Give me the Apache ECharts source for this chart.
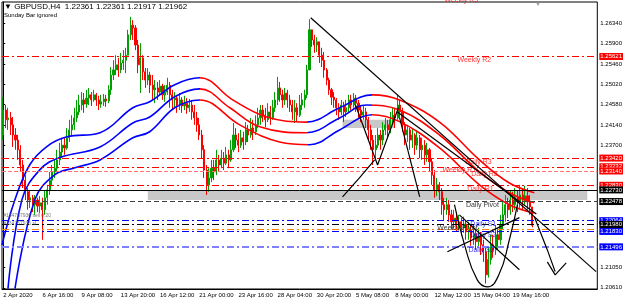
<!DOCTYPE html>
<html><head><meta charset="utf-8">
<script src="https://cdn.jsdelivr.net/npm/echarts@6/dist/echarts.min.js"></script>
<style>html,body{margin:0;padding:0;background:#fff}#c{width:625px;height:302px}</style>
</head><body><div id="c"></div>
<script>
// ---------------- DATA ----------------
const tickLabels = ['2 Apr 2020','6 Apr 16:00','9 Apr 08:00','13 Apr 20:00','16 Apr 12:00','21 Apr 00:00','23 Apr 16:00','28 Apr 04:00','30 Apr 20:00','5 May 08:00','8 May 00:00','12 May 12:00','15 May 04:00','19 May 16:00'];
const priceTicks = [1.26340,1.25900,1.25460,1.25020,1.24580,1.24140,1.23700,1.21050,1.20610];
const firstOpen = 1.2392;
const closes = [1.2446,1.2425,1.2429,1.2414,1.2392,1.2381,1.2360,1.2327,1.2294,1.2269,
1.2251,1.2256,1.2241,1.2251,1.2238,1.2245,1.2230,1.2256,1.2273,1.2294,
1.2312,1.2320,1.2338,1.2355,1.2370,1.2364,1.2386,1.2403,1.2414,1.2429,
1.2442,1.2457,1.2468,1.2459,1.2472,1.2479,1.2468,1.2479,1.2468,1.2459,
1.2464,1.2470,1.2466,1.2490,1.2522,1.2533,1.2544,1.2533,1.2548,1.2554,
1.2565,1.2609,1.2630,1.2624,1.2587,1.2544,1.2559,1.2529,1.2511,1.2522,
1.2500,1.2490,1.2494,1.2485,1.2498,1.2479,1.2485,1.2500,1.2479,1.2468,
1.2472,1.2457,1.2468,1.2455,1.2461,1.2451,1.2457,1.2442,1.2429,1.2414,
1.2392,1.2360,1.2316,1.2284,1.2299,1.2320,1.2312,1.2338,1.2327,1.2342,
1.2331,1.2349,1.2338,1.2360,1.2392,1.2381,1.2370,1.2386,1.2377,1.2403,
1.2392,1.2407,1.2399,1.2414,1.2429,1.2446,1.2435,1.2425,1.2442,1.2429,
1.2451,1.2468,1.2494,1.2479,1.2468,1.2483,1.2468,1.2457,1.2442,1.2451,
1.2435,1.2457,1.2468,1.2479,1.2533,1.2620,1.2598,1.2587,1.2594,1.2565,
1.2554,1.2533,1.2511,1.2490,1.2474,1.2468,1.2451,1.2442,1.2457,1.2442,
1.2451,1.2468,1.2457,1.2472,1.2461,1.2446,1.2435,1.2442,1.2425,1.2403,
1.2381,1.2360,1.2370,1.2392,1.2381,1.2403,1.2414,1.2403,1.2425,1.2435,
1.2429,1.2457,1.2442,1.2414,1.2392,1.2403,1.2381,1.2392,1.2370,1.2386,
1.2360,1.2370,1.2349,1.2360,1.2334,1.2305,1.2273,1.2284,1.2269,1.2241,
1.2230,1.2241,1.2219,1.2204,1.2212,1.2197,1.2204,1.2191,1.2199,1.2182,
1.2187,1.2169,1.2178,1.2161,1.2173,1.2154,1.2139,1.2089,1.2122,1.2154,
1.2143,1.2176,1.2165,1.2197,1.2219,1.2241,1.2230,1.2251,1.2241,1.2256,
1.2247,1.2262,1.2251,1.2260,1.2247,1.2236,1.21962];
const highs = [1.2474,1.2457,1.2451,1.2442,1.2431,1.2407,1.2392,1.2370,1.2338,1.2305,
1.2277,1.2273,1.2262,1.2262,1.2256,1.2260,1.2256,1.2273,1.2284,1.2312,
1.2327,1.2338,1.2360,1.2375,1.2386,1.2386,1.2407,1.2425,1.2435,1.2451,
1.2468,1.2479,1.2485,1.2483,1.2490,1.2494,1.2485,1.2490,1.2483,1.2477,
1.2479,1.2481,1.2479,1.2500,1.2539,1.2554,1.2565,1.2559,1.2570,1.2576,
1.2581,1.2620,1.2648,1.2641,1.2630,1.2598,1.2591,1.2565,1.2537,1.2537,
1.2529,1.2522,1.2511,1.2507,1.2511,1.2503,1.2500,1.2516,1.2507,1.2490,
1.2485,1.2479,1.2483,1.2474,1.2477,1.2472,1.2470,1.2468,1.2457,1.2442,
1.2429,1.2403,1.2370,1.2327,1.2320,1.2338,1.2338,1.2360,1.2349,1.2360,
1.2355,1.2366,1.2360,1.2381,1.2418,1.2407,1.2396,1.2403,1.2399,1.2420,
1.2414,1.2429,1.2425,1.2435,1.2451,1.2457,1.2457,1.2451,1.2461,1.2455,
1.2468,1.2485,1.2518,1.2507,1.2490,1.2494,1.2490,1.2479,1.2468,1.2468,
1.2461,1.2479,1.2483,1.2490,1.2544,1.2643,1.2620,1.2609,1.2604,1.2594,
1.2581,1.2572,1.2537,1.2516,1.2494,1.2485,1.2472,1.2461,1.2468,1.2464,
1.2468,1.2479,1.2479,1.2483,1.2479,1.2468,1.2457,1.2457,1.2451,1.2431,
1.2414,1.2392,1.2392,1.2407,1.2403,1.2420,1.2429,1.2425,1.2442,1.2451,
1.2451,1.2479,1.2468,1.2451,1.2420,1.2414,1.2407,1.2407,1.2396,1.2403,
1.2392,1.2386,1.2381,1.2375,1.2364,1.2342,1.2316,1.2299,1.2290,1.2277,
1.2256,1.2256,1.2251,1.2230,1.2230,1.2225,1.2219,1.2212,1.2215,1.2208,
1.2204,1.2197,1.2197,1.2187,1.2191,1.2182,1.2165,1.2148,1.2148,1.2176,
1.2176,1.2197,1.2191,1.2219,1.2251,1.2262,1.2256,1.2273,1.2269,1.2277,
1.2273,1.2284,1.2277,1.2282,1.2277,1.2262,1.22361];
const lows = [1.2381,1.2407,1.2403,1.2392,1.2366,1.2360,1.2338,1.2312,1.2277,1.2251,
1.2230,1.2234,1.2225,1.2219,1.2225,1.2223,1.2165,1.2219,1.2241,1.2262,
1.2284,1.2299,1.2312,1.2327,1.2342,1.2349,1.2360,1.2377,1.2392,1.2403,
1.2420,1.2435,1.2446,1.2440,1.2451,1.2457,1.2455,1.2464,1.2455,1.2446,
1.2451,1.2455,1.2453,1.2461,1.2479,1.2511,1.2522,1.2518,1.2526,1.2533,
1.2526,1.2565,1.2598,1.2598,1.2576,1.2526,1.2483,1.2511,1.2494,1.2500,
1.2483,1.2468,1.2461,1.2468,1.2477,1.2468,1.2464,1.2479,1.2451,1.2446,
1.2451,1.2440,1.2446,1.2440,1.2446,1.2438,1.2442,1.2425,1.2414,1.2399,
1.2381,1.2342,1.2299,1.2262,1.2269,1.2290,1.2294,1.2305,1.2312,1.2320,
1.2316,1.2327,1.2320,1.2334,1.2355,1.2364,1.2355,1.2364,1.2360,1.2370,
1.2377,1.2386,1.2381,1.2392,1.2407,1.2414,1.2420,1.2409,1.2420,1.2414,
1.2425,1.2442,1.2457,1.2464,1.2451,1.2457,1.2451,1.2442,1.2425,1.2418,
1.2420,1.2431,1.2446,1.2451,1.2472,1.2533,1.2583,1.2570,1.2572,1.2548,
1.2539,1.2516,1.2500,1.2479,1.2457,1.2451,1.2435,1.2425,1.2435,1.2420,
1.2431,1.2442,1.2446,1.2451,1.2442,1.2429,1.2420,1.2425,1.2407,1.2381,
1.2360,1.2327,1.2342,1.2364,1.2360,1.2370,1.2392,1.2386,1.2396,1.2414,
1.2407,1.2425,1.2429,1.2399,1.2370,1.2377,1.2360,1.2364,1.2349,1.2360,
1.2342,1.2338,1.2327,1.2334,1.2312,1.2284,1.2256,1.2260,1.2251,1.2219,
1.2208,1.2219,1.2204,1.2187,1.2191,1.2182,1.2187,1.2173,1.2180,1.2165,
1.2165,1.2152,1.2154,1.2143,1.2148,1.2132,1.2117,1.2070,1.2083,1.2111,
1.2126,1.2132,1.2143,1.2154,1.2187,1.2204,1.2212,1.2219,1.2225,1.2230,
1.2225,1.2234,1.2230,1.2241,1.2230,1.2219,1.21917];

// Moving-average envelope lines: [bar index, price]
const maUpper = [[-0.5,1.2154],[4.8,1.2252],[10.9,1.2328],[17.8,1.2367],[26,1.2388],[39.5,1.2397],[52.9,1.2451],[59.8,1.2464],[70,1.2501],[80.2,1.2516],[93.7,1.2468],[107.5,1.2431],[123.8,1.2420],[137.3,1.2451],[150.7,1.2479],[161.8,1.2468],[178.1,1.2420],[194.4,1.2338],[206.6,1.2288],[216.8,1.2267]];
const maMiddle = [[1.95,1.2059],[7.65,1.2252],[15,1.2317],[23.1,1.2343],[39.5,1.2366],[52.9,1.2418],[59.8,1.2431],[70,1.2475],[80.2,1.2492],[92.5,1.2451],[104.7,1.2410],[123.8,1.2397],[137.3,1.2429],[148.3,1.2457],[161.8,1.2446],[178.1,1.2392],[194.4,1.2312],[206.6,1.2267],[216.8,1.2245]];
const maLower = [[4.8,1.2059],[12.95,1.2252],[21.1,1.2306],[29.3,1.2321],[39.5,1.2338],[52.9,1.2386],[59.8,1.2399],[70,1.2451],[80.2,1.2468],[96.5,1.2414],[112.8,1.2377],[125.1,1.2371],[137.3,1.2403],[150.7,1.2436],[161.8,1.2421],[178.1,1.2364],[194.4,1.2284],[206.6,1.2241],[216.8,1.2223]];

// Pivot levels
const pivotNames  = ['Weekly R2','Daily R3','Weekly R1','Daily R2','Daily R1','Daily Pivot','Daily S1','Weekly Pivot','Daily S2','Daily S3'];
const pivotValues = [1.25621,1.23420,1.23232,1.23140,1.22830,1.22478,1.22064,1.21980,1.21830,1.21496];
const weeklyR3 = 1.2693;
const extraLevels = [1.22730, 1.21880];   // black horizontal line, orange level
const orderTexts = ['#134757936 sell 0.20','#134757936 sl'];
const orderLevels = [1.2217, 1.2199];

// Zones: [startIdx, endIdx, topPrice, bottomPrice]
const zones = [[59,238.4,1.2271,1.2251],[138.5,159.7,1.2425,1.2407]];

// Hand drawn lines: each polyline as [bar index, price]
const drawings = [
  [[125.5,1.2646],[242,1.2096]],
  [[160.9,1.2442],[217.6,1.2221]],
  [[143.8,1.2457],[152.8,1.2327],[161.3,1.2451]],
  [[138.5,1.2258],[145.4,1.2299],[151.6,1.2338]],
  [[161.8,1.2429],[170,1.2258]],
  [[181.3,1.2139],[210.7,1.2213]],
  [[186.2,1.2219],[210.7,1.2100]],
  [[216.8,1.2215],[222.1,1.2143],[225.3,1.2096]],
  [[222.1,1.2117],[225.3,1.2089],[229.8,1.2115]]
];
const uShape = [[184.2,1.2241],[188.3,1.2154],[193.5,1.2078],[197.6,1.2063],[202.3,1.2089],[206.6,1.2165],[209.9,1.2241]];

// ---------------- STYLE / LAYOUT ----------------
const N = 243;
const TICK_EVERY = 16;
const yMin = 1.20583, yMax = 1.26802;
const pivotStyle = [
  {c:'#ff0000', t:[7,3,2,3], box:'#ff0000', at:192.3},
  {c:'#ff0000', t:[7,3,2,3], box:'#ff0000', at:194},
  {c:'#ff0000', t:[7,3,2,3], box:'#ff0000', at:186.2},
  {c:'#ff7070', t:[4,2], box:'#ff0000', at:196.4},
  {c:'#ff0000', t:[7,3,2,3], box:'#ff0000', at:194.8},
  {c:'#404040', t:[5,3], box:'#000000', at:195.6, lc:'#000000'},
  {c:'#0000ff', t:[7,3,2,3], box:'#0000ff', at:196},
  {c:'#000000', t:[7,3,2,3], box:'#000000', at:185.4},
  {c:'#0000ff', t:[7,3,2,3], box:'#0000ff', at:196},
  {c:'#8080ff', t:[7,3,2,3], box:'#0000ff', at:195.2, w:2}
];
const FONT = 'Liberation Sans';

const cats = Array.from({length:N}, (_,i) => (i % TICK_EVERY === 0 && i/TICK_EVERY < tickLabels.length) ? tickLabels[i/TICK_EVERY] : '');
const ohlc = closes.map((c,i) => {
  const o = i === 0 ? firstOpen : (i === closes.length-1 ? 1.22361 : closes[i-1]);
  return [o, c, Math.min(lows[i], o, c), Math.max(highs[i], o, c)];
});

const markLineData = pivotValues.map((v,i) => ({
  yAxis: v,
  lineStyle: {color: pivotStyle[i].c, type: pivotStyle[i].t, width: pivotStyle[i].w || 1},
  label: {show:true, position:'end', distance:2, formatter: v.toFixed(5), color:'#fff',
          backgroundColor: pivotStyle[i].box, padding:[1,1,0,1], fontSize:6, fontFamily:FONT}
}));
markLineData.push({yAxis: extraLevels[0], lineStyle:{color:'#000', type:'solid', width:1},
  label:{show:true, position:'end', distance:2, formatter: extraLevels[0].toFixed(5), color:'#fff', backgroundColor:'#000', padding:[1,1,0,1], fontSize:6, fontFamily:FONT}});
markLineData.push({yAxis: extraLevels[1], lineStyle:{color:'#ff8000', type:[7,3,2,3], width:1}, label:{show:false}});

const labelData = pivotNames.map((n,i) => ({value:[pivotStyle[i].at, pivotValues[i]], name:n,
  label:{color: pivotStyle[i].lc || pivotStyle[i].box}}));
labelData.push({value:[187, weeklyR3], name:'Weekly R3', label:{color:'#ff0000'}});

const series = [];
series.push({type:'line', xAxisIndex:1, data:[], z:1, silent:true,
  markArea:{silent:true, itemStyle:{color:'#c8c8c8'},
    data: zones.map(z => [{xAxis:z[0], yAxis:z[2]},{xAxis:z[1], yAxis:z[3]}])}});
series.push({type:'candlestick', xAxisIndex:0, data:ohlc, barWidth:1.6, z:3,
  itemStyle:{color:'#00a000', color0:'#ff0000', borderColor:'#00a000', borderColor0:'#ff0000', borderWidth:1}});
[maUpper, maMiddle, maLower].forEach(d => series.push({type:'line', xAxisIndex:1, data:d, symbol:'none', smooth:0.4, z:4,
  lineStyle:{width:1.6}}));
series.push({type:'line', xAxisIndex:1, data:[], z:5, silent:true,
  markLine:{silent:true, precision:5, symbol:['none','none'], animation:false, data: markLineData}});
series.push({type:'scatter', xAxisIndex:1, data:labelData, symbolSize:0, clip:false, z:6, silent:true,
  label:{show:true, position:'bottom', distance:0, formatter: p => p.name, fontSize:7, fontFamily:FONT}});
series.push({type:'scatter', xAxisIndex:1, data:orderTexts.map((t,i)=>({value:[0, orderLevels[i]], name:t})), symbolSize:0, z:6, silent:true,
  label:{show:true, position:'right', distance:0, formatter: p => p.name, fontSize:5, color:'#555', fontFamily:FONT}});
drawings.forEach(d => series.push({type:'line', xAxisIndex:1, data:d, symbol:'none', z:7, lineStyle:{color:'#000', width:1.2}}));
series.push({type:'line', xAxisIndex:1, data:uShape, symbol:'none', smooth:true, z:7, lineStyle:{color:'#000', width:1.2}});

const chart = echarts.init(document.getElementById('c'), null, {renderer:'canvas'});
chart.setOption({
  animation:false,
  backgroundColor:'#fff',
  textStyle:{fontFamily:FONT},
  grid:{left:2, right:27, top:2, bottom:13, show:true, borderColor:'#000', borderWidth:1, backgroundColor:'#fff'},
  xAxis:[
    {type:'category', data:cats, boundaryGap:true,
     axisLine:{lineStyle:{color:'#000'}},
     axisTick:{alignWithLabel:true, length:3, interval:(i)=> i % TICK_EVERY === 0 && i/TICK_EVERY < tickLabels.length, lineStyle:{color:'#000'}},
     axisLabel:{interval:(i)=> i % TICK_EVERY === 0, align:'left', margin:3, fontSize:6, color:'#000', fontFamily:FONT},
     splitLine:{show:false}},
    {type:'value', min:-0.5, max:N-0.5, show:false, splitLine:{show:false}}
  ],
  yAxis:{type:'value', position:'right', min:yMin, max:yMax, scale:true,
    axisLine:{show:true, lineStyle:{color:'#000'}},
    axisTick:{show:true, length:2, customValues:priceTicks, lineStyle:{color:'#000'}},
    axisLabel:{customValues:priceTicks, formatter:v=>v.toFixed(5), fontSize:6, color:'#000', margin:3, fontFamily:FONT},
    splitLine:{show:false}},
  visualMap:{type:'piecewise', show:false, dimension:0, seriesIndex:[2,3,4],
    pieces:[{lt:80.5, color:'#0000ff'},{gte:80.5, lt:124.5, color:'#ff0000'},{gte:124.5, lt:150.5, color:'#0000ff'},{gte:150.5, color:'#ff0000'}]},
  graphic:[
    {type:'text', left:4, top:3, style:{text:'\u25BC GBPUSD,H4  1.22361 1.22361 1.21917 1.21962', font:'8px "Liberation Sans"', fill:'#000'}},
    {type:'text', left:4, top:12, style:{text:'Sunday Bar ignored', font:'6px "Liberation Sans"', fill:'#000'}},
    {type:'text', left:535, top:1, style:{text:'\u25BC', font:'6px "Liberation Sans"', fill:'#999'}}
  ],
  series
});
</script></body></html>
